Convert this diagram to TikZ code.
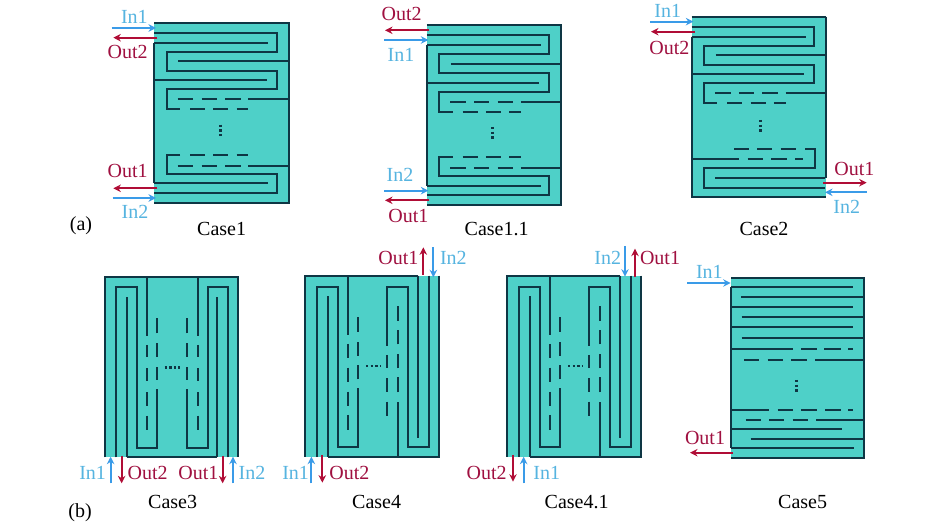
\documentclass[tikz,border=0pt]{standalone}
\usepackage{fontspec}
\setmainfont{Liberation Serif}
\usetikzlibrary{arrows.meta}
\definecolor{panel}{HTML}{4ED0C8}
\definecolor{wall}{HTML}{0E3644}
\definecolor{inblue}{HTML}{3A9BE8}
\definecolor{intext}{HTML}{56B4E0}
\definecolor{outred}{HTML}{B00D36}
\definecolor{outtext}{HTML}{A01040}
\tikzset{
  zoomed/.style={x=.33333pt,y=-.33333pt},
  panelfill/.style={fill=panel,draw=none},
  wallline/.style={draw=wall,line width=2.2pt,line cap=butt,line join=miter},
  inflow/.style={draw=inblue,line width=2.1pt,-{Stealth[length=7.5pt,width=7.5pt]}},
  outflow/.style={draw=outred,line width=2.1pt,-{Stealth[length=7.5pt,width=7.5pt]}},
  inlabel/.style={text=intext,font=\fontsize{20}{22}\selectfont,inner sep=0pt},
  outlabel/.style={text=outtext,font=\fontsize{20}{22}\selectfont,inner sep=0pt},
  caselabel/.style={text=black,font=\fontsize{20}{22}\selectfont,inner sep=0pt},
  dotmark/.style={draw=wall,line width=2.4pt,dash pattern=on 2.4pt off 2.2pt}
}
% horizontal serpentine, top half, zoom coordinates of Case1
\newcommand{\serptop}{%
  \path[wallline] (163,98) -- (530,98) -- (530,155) -- (200,155) -- (200,212) -- (530,212) -- (530,268) -- (200,268) -- (200,328) -- (240,328)
    (270,328) -- (315,328) (340,328) -- (385,328) (410,328) -- (445,328)
    (163,128) -- (505,128) (235,184) -- (566,184) (163,241) -- (500,241)
    (233,298) -- (280,298) (305,298) -- (350,298) (375,298) -- (422,298) (445,298) -- (566,298);
}
% vertical serpentine left half, zoom coordinates of Case4
\newcommand{\vertleft}{%
  \path[wallline] (110,650) -- (110,142) -- (173,142) -- (173,620) -- (235,620) -- (235,445)
    (235,418) -- (235,375) (235,347) -- (235,305) (235,275) -- (235,232)
    (143,650) -- (143,168) (203,107) -- (203,285) (203,312) -- (203,355) (203,383) -- (203,427) (203,455) -- (203,497) (203,525) -- (203,570);
}
\begin{document}
\begin{tikzpicture}[x=1pt,y=-1pt]
\useasboundingbox (0pt,0pt) rectangle (945pt,-526pt);
\fill[white] (0pt,0pt) rectangle (945pt,-526pt);

% ---------- Case1
\begin{scope}[zoomed,shift={(100pt,0pt)}]
  \fill[panelfill] (163,68) rectangle (566,608);
  \path[wallline] (163,68) -- (566,68) -- (566,608) -- (163,608) (163,128) -- (163,550);
  \serptop
  \path[wallline] (240,464) -- (200,464) -- (200,522) -- (530,522) -- (530,578) -- (163,578)
    (270,464) -- (315,464) (340,464) -- (385,464) (410,464) -- (445,464)
    (233,497) -- (280,497) (305,497) -- (350,497) (375,497) -- (422,497) (445,497) -- (566,497)
    (163,550) -- (505,550);
  \draw[dotmark] (362,374) -- (362,414);
  \coordinate (c1a) at (35,84); \coordinate (c1b) at (168,84);
  \coordinate (c1c) at (172,113); \coordinate (c1d) at (40,113);
  \coordinate (c1e) at (172,565); \coordinate (c1f) at (40,565);
  \coordinate (c1g) at (38,594); \coordinate (c1h) at (168,594);
  \draw[inflow] (c1a) -- (c1b);
  \draw[outflow] (c1c) -- (c1d);
  \draw[outflow] (c1e) -- (c1f);
  \draw[inflow] (c1g) -- (c1h);
  \node[inlabel] (c1in1) at (103,52) {In1};
  \node[outlabel] (c1out2) at (83,157) {Out2};
  \node[outlabel] (c1out1) at (83,513) {Out1};
  \node[inlabel] (c1in2) at (105,635) {In2};
  \node[caselabel] (c1name) at (365,688) {Case1};
  \node[caselabel] (parta) at (-57,678) {(a)};
\end{scope}

% ---------- Case1.1
\begin{scope}[zoomed,shift={(372.6pt,-2.3pt)}]
  \fill[panelfill] (163,68) rectangle (566,608);
  \path[wallline] (163,68) -- (566,68) -- (566,608) -- (163,608) (163,128) -- (163,550);
  \serptop
  \path[wallline] (240,464) -- (200,464) -- (200,522) -- (530,522) -- (530,578) -- (163,578)
    (270,464) -- (315,464) (340,464) -- (385,464) (410,464) -- (445,464)
    (233,497) -- (280,497) (305,497) -- (350,497) (375,497) -- (422,497) (445,497) -- (566,497)
    (163,550) -- (505,550);
  \draw[dotmark] (360,374) -- (360,414);
\end{scope}
\begin{scope}[zoomed,shift={(370pt,0pt)}]
  \coordinate (c2a) at (178,91); \coordinate (c2b) at (45,91);
  \coordinate (c2c) at (42,120); \coordinate (c2d) at (175,120);
  \coordinate (c2e) at (42,572); \coordinate (c2f) at (175,572);
  \coordinate (c2g) at (178,601); \coordinate (c2h) at (45,601);
  \draw[outflow] (c2a) -- (c2b);
  \draw[inflow] (c2c) -- (c2d);
  \draw[inflow] (c2e) -- (c2f);
  \draw[outflow] (c2g) -- (c2h);
  \node[outlabel] (c2out2) at (95,43) {Out2};
  \node[inlabel] (c2in1) at (93,165) {In1};
  \node[inlabel] (c2in2) at (90,525) {In2};
  \node[outlabel] (c2out1) at (115,648) {Out1};
  \node[caselabel] (c2name) at (380,688) {Case1.1};
\end{scope}

% ---------- Case2
\begin{scope}[zoomed,shift={(637.3pt,6pt)}]
  \fill[panelfill] (163,68) rectangle (566,610);
  \path[wallline] (163,68) -- (566,68) (566,68) -- (566,552) (566,610) -- (163,610) -- (163,128);
  \serptop
  \draw[dotmark] (370,378) -- (370,418);
\end{scope}
\begin{scope}[zoomed,shift={(640pt,0pt)}]
  \path[wallline] (283,446) -- (327,446) (352,446) -- (397,446) (422,446) -- (468,446) (495,446) -- (524,446) -- (524,505) -- (193,505) -- (193,563) -- (556,563)
    (155,478) -- (298,478) (323,478) -- (368,478) (393,478) -- (440,478) (465,478) -- (490,478)
    (225,534) -- (556,534);
  \coordinate (c3a) at (30,65); \coordinate (c3b) at (160,65);
  \coordinate (c3c) at (165,95); \coordinate (c3d) at (33,95);
  \coordinate (c3e) at (550,548); \coordinate (c3f) at (680,548);
  \coordinate (c3g) at (680,577); \coordinate (c3h) at (555,577);
  \draw[inflow] (c3a) -- (c3b);
  \draw[outflow] (c3c) -- (c3d);
  \draw[outflow] (c3e) -- (c3f);
  \draw[inflow] (c3g) -- (c3h);
  \node[inlabel] (c3in1) at (83,32) {In1};
  \node[outlabel] (c3out2) at (88,145) {Out2};
  \node[outlabel] (c3out1) at (643,507) {Out1};
  \node[inlabel] (c3in2) at (620,620) {In2};
  \node[caselabel] (c3name) at (372,688) {Case2};
\end{scope}

% ---------- Case3
\begin{scope}[zoomed,shift={(60pt,-260pt)}]
  \fill[panelfill] (135,50) rectangle (533,592);
  \path[wallline] (135,592) -- (135,50) -- (533,50) -- (533,592) (200,592) -- (472,592);
  \path[wallline] (168,592) -- (168,82) -- (230,82) -- (230,563) -- (292,563) -- (292,388)
    (292,360) -- (292,320) (292,290) -- (292,248) (292,220) -- (292,175)
    (200,592) -- (200,110)
    (262,50) -- (262,228) (262,255) -- (262,290) (262,325) -- (262,362) (262,397) -- (262,437) (262,467) -- (262,510)
    (505,592) -- (505,82) -- (443,82) -- (443,563) -- (381,563) -- (381,388)
    (381,360) -- (381,320) (381,290) -- (381,248) (381,220) -- (381,175)
    (472,592) -- (472,110)
    (413,50) -- (413,228) (413,255) -- (413,290) (413,325) -- (413,362) (413,397) -- (413,437) (413,467) -- (413,510);
  \draw[dotmark] (314,322) -- (359,322);
  \coordinate (c4a) at (152,670); \coordinate (c4b) at (152,590);
  \coordinate (c4c) at (185,588); \coordinate (c4d) at (185,670);
  \coordinate (c4e) at (488,588); \coordinate (c4f) at (488,670);
  \coordinate (c4g) at (519,670); \coordinate (c4h) at (519,590);
  \draw[inflow] (c4a) -- (c4b);
  \draw[outflow] (c4c) -- (c4d);
  \draw[outflow] (c4e) -- (c4f);
  \draw[inflow] (c4g) -- (c4h);
  \node[inlabel] (c4in1) at (98,638) {In1};
  \node[outlabel] (c4out2) at (263,638) {Out2};
  \node[outlabel] (c4out1) at (415,638) {Out1};
  \node[inlabel] (c4in2) at (576,638) {In2};
  \node[caselabel] (c4name) at (338,725) {Case3};
  \node[caselabel] (partb) at (60,757) {(b)};
\end{scope}

% ---------- Case4 and Case4.1 panels
\foreach \ox/\tag in {280/a,482/b}{
\begin{scope}[zoomed,shift={(\ox pt,-240pt)}]
  \fill[panelfill] (76,107) rectangle (476,650);
  \path[wallline] (76,650) -- (76,107) -- (415,107) (476,107) -- (476,650) -- (143,650);
  \vertleft
  \path[wallline] (415,107) -- (415,594)
    (447,107) -- (447,620) -- (383,620) -- (383,142) -- (322,142) -- (322,318)
    (322,345) -- (322,385) (322,415) -- (322,457) (322,485) -- (322,527)
    (355,650) -- (355,485) (355,457) -- (355,412) (355,385) -- (355,342) (355,313) -- (355,270) (355,243) -- (355,198);
  \draw[dotmark] (258,378) -- (302,378);
\end{scope}
}
\begin{scope}[zoomed,shift={(280pt,-240pt)}]
  \coordinate (c5a) at (430,105); \coordinate (c5b) at (430,22);
  \coordinate (c5c) at (460,22); \coordinate (c5d) at (460,112);
  \coordinate (c5e) at (94,730); \coordinate (c5f) at (94,650);
  \coordinate (c5g) at (127,645); \coordinate (c5h) at (127,728);
  \draw[outflow] (c5a) -- (c5b);
  \draw[inflow] (c5c) -- (c5d);
  \draw[inflow] (c5e) -- (c5f);
  \draw[outflow] (c5g) -- (c5h);
  \node[outlabel] (c5out1) at (355,55) {Out1};
  \node[inlabel] (c5in2) at (520,55) {In2};
  \node[inlabel] (c5in1) at (47,700) {In1};
  \node[outlabel] (c5out2) at (208,700) {Out2};
  \node[caselabel] (c5name) at (290,785) {Case4};
\end{scope}
\begin{scope}[zoomed,shift={(480pt,-240pt)}]
  \coordinate (c6a) at (435,18); \coordinate (c6b) at (435,110);
  \coordinate (c6c) at (465,110); \coordinate (c6d) at (465,26);
  \coordinate (c6e) at (99,645); \coordinate (c6f) at (99,725);
  \coordinate (c6g) at (131,730); \coordinate (c6h) at (131,650);
  \draw[inflow] (c6a) -- (c6b);
  \draw[outflow] (c6c) -- (c6d);
  \draw[outflow] (c6e) -- (c6f);
  \draw[inflow] (c6g) -- (c6h);
  \node[inlabel] (c6in2) at (383,55) {In2};
  \node[outlabel] (c6out1) at (540,55) {Out1};
  \node[outlabel] (c6out2) at (20,700) {Out2};
  \node[inlabel] (c6in1) at (200,700) {In1};
  \node[caselabel] (c6name) at (290,785) {Case4.1};
\end{scope}

% ---------- Case5
\begin{scope}[zoomed,shift={(680pt,-255pt)}]
  \fill[panelfill] (153,70) rectangle (552,608);
  \path[wallline] (153,70) -- (552,70) -- (552,608) -- (153,608) (153,97) -- (153,580);
  \path[wallline] (153,97) -- (520,97) (183,127) -- (552,127) (153,155) -- (520,155)
    (185,186) -- (552,186) (153,217) -- (520,217) (185,248) -- (552,248)
    (153,282) -- (338,282) (363,282) -- (410,282) (433,282) -- (482,282) (505,282) -- (518,282)
    (192,314) -- (237,314) (263,314) -- (308,314) (333,314) -- (380,314) (405,314) -- (552,314)
    (153,465) -- (268,465) (293,465) -- (340,465) (363,465) -- (410,465) (435,465) -- (482,465) (505,465) -- (518,465)
    (197,496) -- (242,496) (267,496) -- (312,496) (338,496) -- (385,496) (408,496) -- (552,496)
    (153,521) -- (487,521) (212,552) -- (552,552) (153,580) -- (522,580);
  \draw[dotmark] (350,375) -- (350,416);
  \coordinate (c7a) at (22,84); \coordinate (c7b) at (152,84);
  \coordinate (c7c) at (160,593); \coordinate (c7d) at (30,593);
  \draw[inflow] (c7a) -- (c7b);
  \draw[outflow] (c7c) -- (c7d);
  \node[inlabel] (c7in1) at (88,52) {In1};
  \node[outlabel] (c7out1) at (75,550) {Out1};
  \node[caselabel] (c7name) at (368,742) {Case5};
\end{scope}
\end{tikzpicture}
\end{document}
